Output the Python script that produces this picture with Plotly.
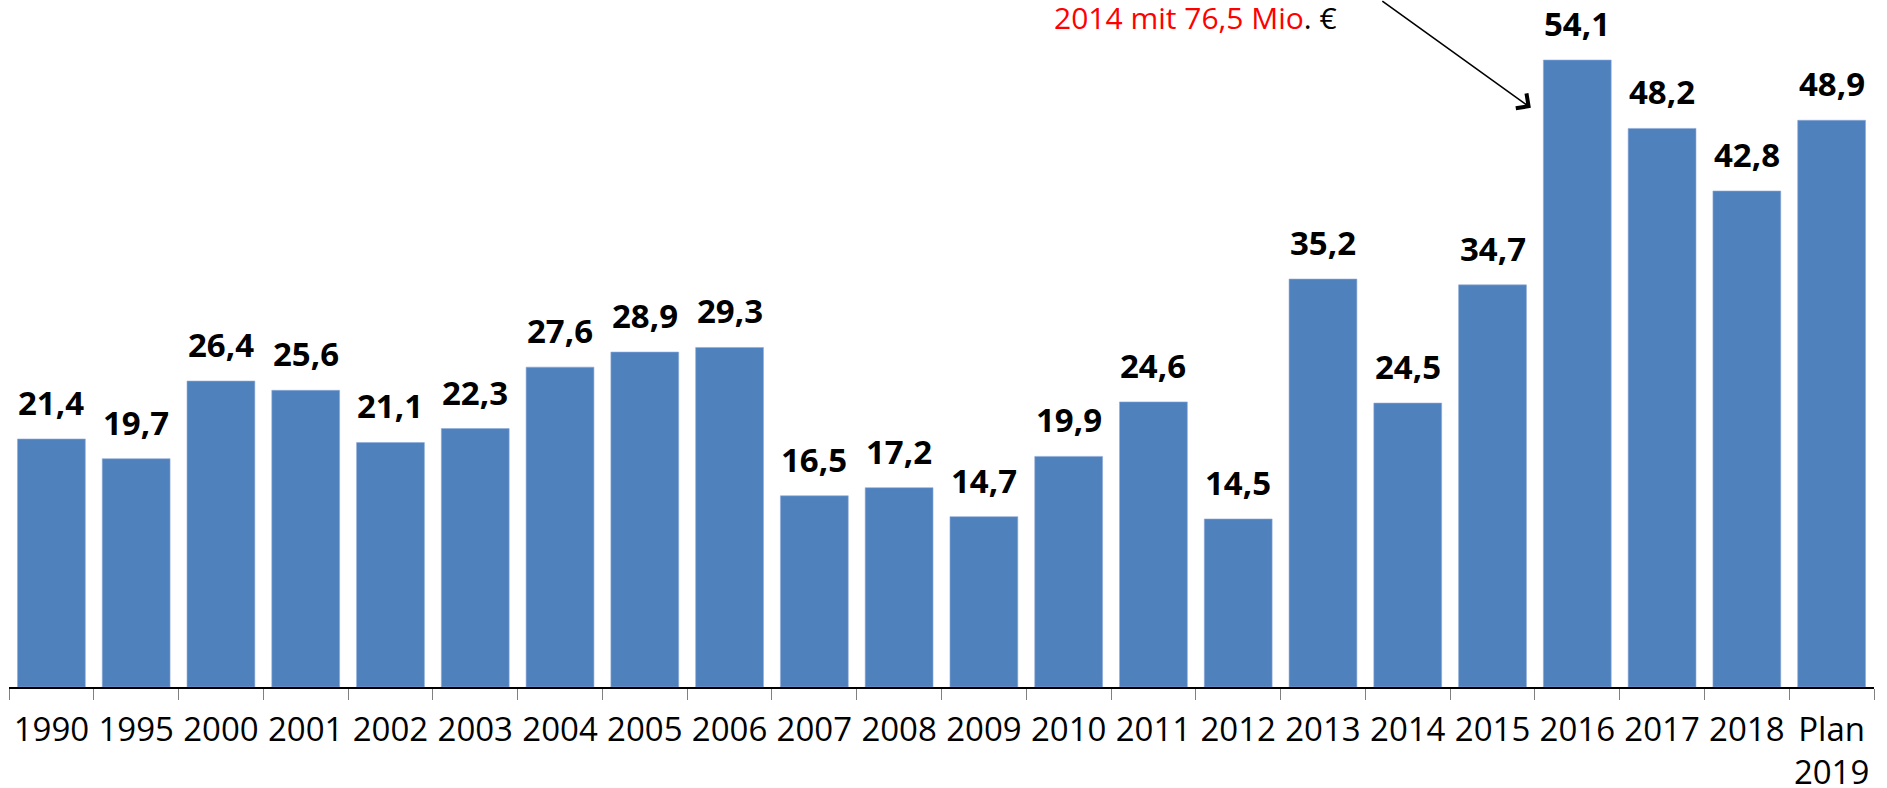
import plotly.graph_objects as go

categories = ["1990", "1995", "2000", "2001", "2002", "2003", "2004", "2005", "2006", "2007",
              "2008", "2009", "2010", "2011", "2012", "2013", "2014", "2015", "2016", "2017",
              "2018", "Plan<br>2019"]
values = [21.4, 19.7, 26.4, 25.6, 21.1, 22.3, 27.6, 28.9, 29.3, 16.5,
          17.2, 14.7, 19.9, 24.6, 14.5, 35.2, 24.5, 34.7, 54.1, 48.2,
          42.8, 48.9]
labels = [f"{v:.1f}".replace(".", ",") for v in values]

FONT = "Open Sans"

fig = go.Figure()
fig.add_trace(go.Bar(
    x=categories, y=values,
    marker=dict(color="#4F81BD", line=dict(color="#8EAAD8", width=0.6)),
    hoverinfo="skip",
))

annotations = []
for i, (v, t) in enumerate(zip(values, labels)):
    annotations.append(dict(
        x=i, y=v, xref="x", yref="y", text=t, showarrow=False,
        yanchor="bottom", yshift=12,
        font=dict(family=FONT, size=33, color="#000000", weight="bold"),
    ))

# Note text
annotations.append(dict(
    x=0.5595, y=0.9755, xref="paper", yref="paper", xanchor="left", yanchor="middle",
    yshift=-1,
    text="<span style='color:#FF0000'>2014 mit 76,5 Mio</span>. €",
    showarrow=False, font=dict(family=FONT, size=30, color="#000000"),
))
# Arrow
annotations.append(dict(
    x=0.816, y=0.843, xref="paper", yref="paper", text="",
    showarrow=True, ax=-150, ay=-115, axref="pixel", ayref="pixel",
    arrowhead=4, arrowsize=2.2, arrowwidth=1.6, arrowcolor="#000000",
))

fig.update_layout(
    width=1887, height=788,
    margin=dict(l=9, r=13, t=0, b=101, autoexpand=False),
    paper_bgcolor="white", plot_bgcolor="white",
    bargap=0.2, showlegend=False,
    annotations=annotations,
    xaxis=dict(
        type="category", tickson="boundaries", ticks="outside", ticklen=11,
        tickcolor="#808080", tickwidth=1, tickangle=0, automargin=False,
        ticklabelstandoff=13,
        showline=True, linecolor="#000000", linewidth=1.5,
        showgrid=False, range=[-0.5, len(categories) - 0.5],
        tickfont=dict(family=FONT, size=33, color="#000000"),
    ),
    yaxis=dict(range=[0, 59.28], visible=False, showgrid=False, zeroline=False,
               automargin=False),
)

fig.write_html("out.html", config={"displayModeBar": False},
               post_script="document.body.style.margin='0px';document.body.style.overflow='hidden';")
